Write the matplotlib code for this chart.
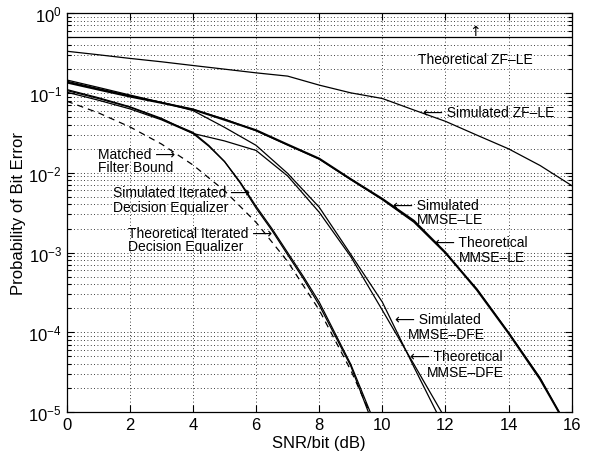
import numpy as np
import matplotlib
matplotlib.use('Agg')
import matplotlib.pyplot as plt
from matplotlib.ticker import LogLocator, NullLocator

plt.rcParams['font.family'] = ['Liberation Sans', 'DejaVu Sans']
plt.rcParams['mathtext.fontset'] = 'custom'
plt.rcParams['mathtext.rm'] = 'Liberation Sans'
plt.rcParams['mathtext.it'] = 'Liberation Sans:italic'

# values (SNR/bit in dB, probability of bit error)
snr_zf = [0, 16]
ber_zf_theo = [0.5, 0.5]

snr_full = list(range(17))
ber_zf_sim = [0.332, 0.30, 0.27, 0.245, 0.22, 0.198, 0.178, 0.162, 0.125,
              0.10, 0.085, 0.061, 0.044, 0.0295, 0.0199, 0.0123, 0.0069]

snr_le = list(range(16)) + [15.6]
ber_le_theo = [0.135, 0.11, 0.09, 0.075, 0.062, 0.046, 0.034, 0.0225, 0.015,
               0.0083, 0.0047, 0.0025, 1.0e-3, 3.4e-4, 9.8e-5, 2.6e-5, 1e-5]
ber_le_sim = [0.14, 0.113, 0.092, 0.076, 0.062, 0.047, 0.0335, 0.0222, 0.0148,
              0.0082, 0.0046, 0.0024, 9.8e-4, 3.5e-4, 1.0e-4, 2.7e-5, 1e-5]

snr_dfe_a = [0, 1, 2, 3, 4, 5, 6, 7, 8, 9, 10, 11, 11.72]
ber_dfe_a = [0.145, 0.117, 0.094, 0.076, 0.06, 0.037, 0.022, 0.0098, 0.0037,
             9.5e-4, 2.4e-4, 3.7e-5, 1e-5]
snr_dfe_b = [0, 1, 2, 3, 4, 5, 6, 7, 8, 9, 10, 11, 11.88]
ber_dfe_b = [0.11, 0.087, 0.067, 0.048, 0.031, 0.025, 0.019, 0.0091, 0.0032,
             8.9e-4, 1.9e-4, 4.0e-5, 1e-5]

snr_it = [0, 1, 2, 3, 4, 4.5, 5, 5.5, 6, 6.5, 7, 7.5, 8, 9]
ber_it_sim = [0.107, 0.085, 0.066, 0.047, 0.032, 0.022, 0.0138, 0.0074,
              0.0036, 0.0019, 9.4e-4, 4.7e-4, 2.2e-4, 3.8e-5]
ber_it_theo = [0.102, 0.081, 0.063, 0.046, 0.031, 0.0215, 0.0138, 0.0076,
               0.0038, 0.002, 1.0e-3, 5.0e-4, 2.4e-4, 4.0e-5]
snr_it_end = [9.56, 9.62]

snr_mf = list(range(10)) + [9.6]
ber_mf = [0.0786, 0.0563, 0.0375, 0.0229, 0.0125, 0.00595, 0.00239, 7.73e-4,
          1.91e-4, 3.36e-5, 1e-5]

fig = plt.figure(figsize=(5.92, 4.60), dpi=100)
ax = fig.add_axes([0.1127, 0.1015, 0.853, 0.8681])

k = 'black'
ax.semilogy(snr_zf, ber_zf_theo, color=k, lw=0.9)
ax.semilogy(snr_full, ber_zf_sim, color=k, lw=0.9)
ax.semilogy(snr_le, ber_le_theo, color=k, lw=1.5)
ax.semilogy(snr_le, ber_le_sim, color=k, lw=0.9)
ax.semilogy(snr_dfe_a, ber_dfe_a, color=k, lw=0.9)
ax.semilogy(snr_dfe_b, ber_dfe_b, color=k, lw=0.9)
ax.semilogy(snr_it + [snr_it_end[0]], ber_it_sim + [1e-5], color=k, lw=0.9)
ax.semilogy(snr_it + [snr_it_end[1]], ber_it_theo + [1e-5], color=k, lw=0.9)
ax.semilogy(snr_mf, ber_mf, color=k, lw=0.9, ls=(0, (5, 4)))

ax.set_xlim(0, 16)
ax.set_ylim(1e-5, 1)
ax.set_xticks(range(0, 17, 2))
ax.xaxis.set_minor_locator(NullLocator())
ax.yaxis.set_major_locator(LogLocator(base=10, numticks=10))
ax.yaxis.set_minor_locator(LogLocator(base=10, subs=np.arange(2, 10), numticks=20))
ax.tick_params(which='both', direction='in', top=True, right=True,
               labelsize=12, width=0.8)
ax.tick_params(which='major', length=5)
ax.tick_params(which='minor', length=3)
ax.grid(True, which='major', axis='both', ls=(0, (1, 3)), color=k, lw=0.6)
ax.grid(True, which='minor', axis='y', ls=(0, (1, 3)), color=k, lw=0.6)
for s in ax.spines.values():
    s.set_linewidth(0.9)

ax.set_xlabel('SNR/bit (dB)', fontsize=12, labelpad=2)
ax.set_ylabel('Probability of Bit Error', fontsize=12, labelpad=2)

fs = 10
L = '\u27f5'
R = '\u27f6'
ax.text(12.95, 0.60, '\u2191', fontsize=fs, ha='center', va='center',
        family='DejaVu Sans')
ax.text(12.95, 0.265, 'Theoretical ZF\u2013LE', fontsize=fs, ha='center', va='center')
ax.text(11.3, 0.0575, L + ' Simulated ZF\u2013LE', fontsize=fs, ha='left', va='center')
ax.text(1.0, 0.0171, 'Matched ' + R, fontsize=fs, ha='left', va='center')
ax.text(1.0, 0.0118, 'Filter Bound', fontsize=fs, ha='left', va='center')
ax.text(1.48, 0.0058, 'Simulated Iterated ' + R, fontsize=fs, ha='left', va='center')
ax.text(1.48, 0.0037, 'Decision Equalizer', fontsize=fs, ha='left', va='center')
ax.text(1.95, 0.00177, 'Theoretical Iterated ' + R, fontsize=fs, ha='left', va='center')
ax.text(1.95, 0.00122, 'Decision Equalizer', fontsize=fs, ha='left', va='center')
ax.text(10.35, 0.0039, L + ' Simulated', fontsize=fs, ha='left', va='center')
ax.text(11.09, 0.0026, 'MMSE\u2013LE', fontsize=fs, ha='left', va='center')
ax.text(11.67, 0.00136, L + ' Theoretical', fontsize=fs, ha='left', va='center')
ax.text(12.41, 0.00089, 'MMSE\u2013LE', fontsize=fs, ha='left', va='center')
ax.text(10.41, 0.000148, L + ' Simulated', fontsize=fs, ha='left', va='center')
ax.text(10.82, 0.000095, 'MMSE\u2013DFE', fontsize=fs, ha='left', va='center')
ax.text(10.88, 0.000051, L + ' Theoretical', fontsize=fs, ha='left', va='center')
ax.text(11.41, 0.000032, 'MMSE\u2013DFE', fontsize=fs, ha='left', va='center')

fig.savefig('out.png', dpi=100)
